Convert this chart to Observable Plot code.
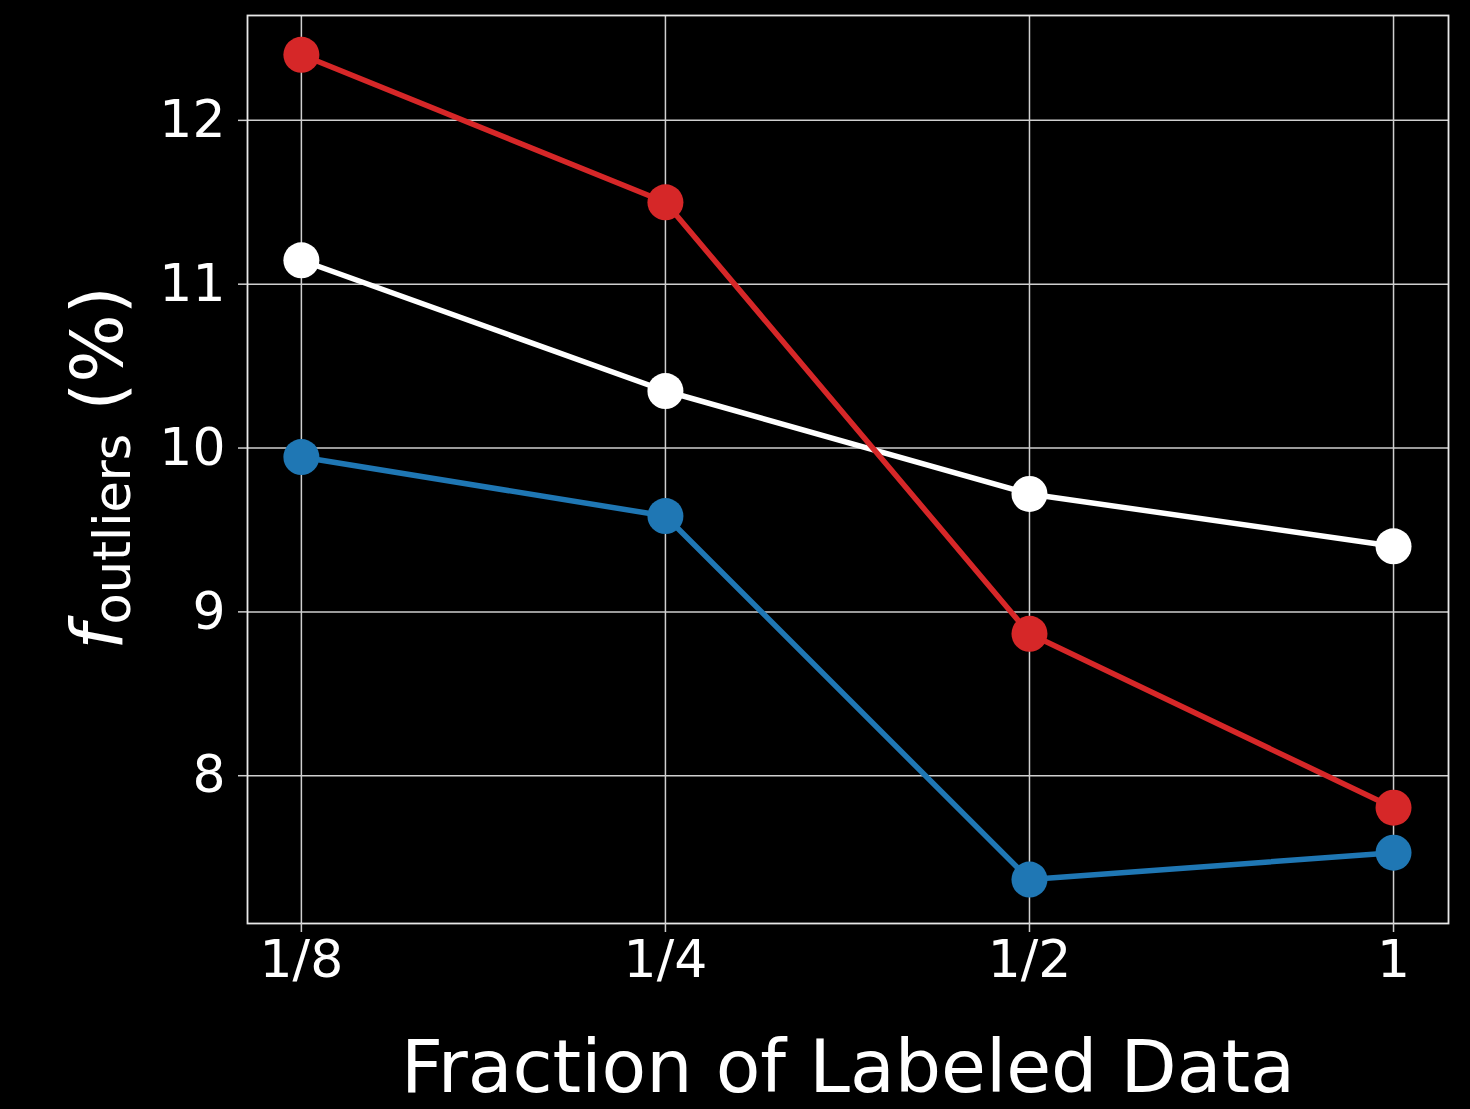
<!DOCTYPE html>
<html>
<head>
<meta charset="utf-8">
<script src="https://cdn.jsdelivr.net/npm/d3@7"></script>
<script src="https://cdn.jsdelivr.net/npm/@observablehq/plot@0.6"></script>
<style>
  html, body { margin: 0; padding: 0; background: #000; }
  #chart { width: 1470px; height: 1109px; }
  svg { display: block; }
</style>
</head>
<body>
<div id="chart"></div>
<script>
// Data
const fractions = [1/8, 1/4, 1/2, 1];
const fractionLabels = ["1/8", "1/4", "1/2", "1"];
const redSeries = [12.40, 11.50, 8.866, 7.805];
const whiteSeries = [11.146, 10.348, 9.72, 9.40];
const blueSeries = [9.945, 9.585, 7.366, 7.53];
const yTicks = [8, 9, 10, 11, 12];

const seriesNames = ["blue", "white", "red"];
const seriesColors = {blue: "#1f77b4", white: "#ffffff", red: "#d62728"};
const seriesValues = {blue: blueSeries, white: whiteSeries, red: redSeries};

const rows = [];
for (const s of seriesNames) {
  fractions.forEach((f, i) => rows.push({series: s, x: f, y: seriesValues[s][i]}));
}

const font = "DejaVu Sans, sans-serif";
const gridColor = "#cfcfcf";

const plot = Plot.plot({
  width: 1470,
  height: 1109,
  marginLeft: 247,
  marginRight: 22,
  marginTop: 15,
  marginBottom: 186,
  style: {background: "#000", color: "#fff", fontFamily: font, fontSize: "52px"},
  x: {type: "log", base: 2, domain: [Math.pow(2, -3.148), Math.pow(2, 0.151)], label: null},
  y: {domain: [7.098, 12.64], label: null},
  marks: [
    Plot.gridX(fractions, {stroke: gridColor, strokeOpacity: 1, strokeWidth: 1.5}),
    Plot.gridY(yTicks, {stroke: gridColor, strokeOpacity: 1, strokeWidth: 1.5}),
    Plot.frame({stroke: "#e8e8e8", strokeWidth: 1.8}),
    Plot.axisX(fractions, {
      tickFormat: (d) => fractionLabels[fractions.indexOf(d)],
      tickSize: 9, tickPadding: 8, stroke: gridColor, strokeWidth: 1.5,
      fill: "#fff", fontSize: 52, label: null
    }),
    Plot.axisY(yTicks, {
      tickFormat: d3.format("d"),
      tickSize: 9, tickPadding: 13, stroke: gridColor, strokeWidth: 1.5,
      fill: "#fff", fontSize: 52, label: null
    }),
    ...seriesNames.map(s => Plot.line(rows.filter(d => d.series === s), {
      x: "x", y: "y", stroke: seriesColors[s], strokeWidth: 5.5
    })),
    ...seriesNames.map(s => Plot.dot(rows.filter(d => d.series === s), {
      x: "x", y: "y", fill: seriesColors[s], r: 18, stroke: "none"
    }))
  ]
});

document.getElementById("chart").appendChild(plot);

const svg = d3.select(plot);
// X label
svg.append("text")
  .attr("x", 848).attr("y", 1092)
  .attr("text-anchor", "middle")
  .attr("fill", "#fff")
  .style("font-family", font)
  .style("font-size", "73px")
  .text("Fraction of Labeled Data");

// Y label with subscript
const yl = svg.append("text")
  .attr("transform", "translate(122,468) rotate(-90)")
  .attr("text-anchor", "middle")
  .attr("fill", "#fff")
  .style("font-family", font)
  .style("font-size", "72px");
yl.append("tspan").style("font-style", "italic").text("f");
yl.append("tspan").attr("dy", 8).style("font-size", "51px").text("outliers");
yl.append("tspan").attr("dy", -8).text("\u00a0(%)");
</script>
</body>
</html>
